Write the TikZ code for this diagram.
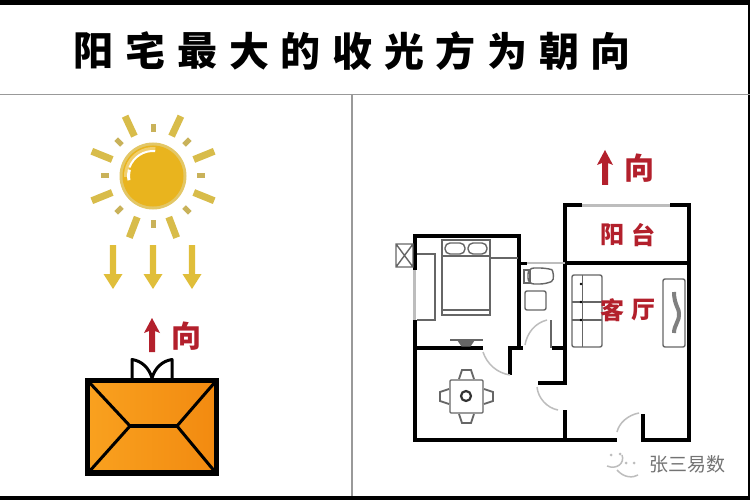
\documentclass[tikz,border=0pt]{standalone}
\usepackage{fontspec}
\newfontfamily\cjk{Noto Sans CJK SC}[BoldFont={Noto Sans CJK SC Black}]
\newfontfamily\cjkb{Noto Sans CJK SC}
\definecolor{sunray}{HTML}{D8BC4A}
\definecolor{suntick}{HTML}{C9B25A}
\definecolor{sunfill}{HTML}{E9B41E}
\definecolor{sunedge}{HTML}{E3C766}
\definecolor{arrowy}{HTML}{E0BE3A}
\definecolor{redtxt}{HTML}{B3202C}
\definecolor{roofa}{HTML}{F9A11F}
\definecolor{roofb}{HTML}{F28A10}
\definecolor{furn}{HTML}{666666}
\definecolor{softg}{HTML}{BDBDBD}
\tikzset{
  wall/.style={line width=3.2pt,black,line cap=butt},
  furniture/.style={line width=1.4pt,furn},
  doorarc/.style={line width=1.5pt,softg},
  window/.style={line width=3pt,softg},
  redlabel/.style={text=redtxt,font=\cjkb\bfseries\fontsize{#1}{#1}\selectfont,inner sep=0pt},
  titlechar/.style={font=\cjk\bfseries\fontsize{40}{40}\selectfont,inner sep=0pt,text=black},
  markg/.style={text=#1,font=\cjkb\fontsize{19}{19}\selectfont,inner sep=0pt},
}
\newcommand{\redarrow}[3]{% x, ytop, ybottom
  \fill[redtxt] (#1,#2) -- (#1+8,#2+15) -- (#1+3,#2+13) -- (#1+3,#3) -- (#1-3,#3) -- (#1-3,#2+13) -- (#1-8,#2+15) -- cycle;}
\newcommand{\downarrowy}[1]{%
  \fill[arrowy] (#1-3.2,245) -- (#1+3.2,245) -- (#1+3.2,274) -- (#1+9.5,274) -- (#1,289) -- (#1-9.5,274) -- (#1-3.2,274) -- cycle;}
\begin{document}
\begin{tikzpicture}[x=1pt,y=-1pt]
\useasboundingbox (0,0) rectangle (750,500);
\fill[white] (0,0) rectangle (750,500);
% frame
\fill[black] (0,0) rectangle (750,5);
\fill[black] (0,495.5) rectangle (750,500);
\fill[black] (747.5,0) rectangle (750,500);
\draw[line width=1.5pt,gray!80] (0,94.5) -- (750,94.5);
\draw[line width=1.5pt,gray!80] (352,94.5) -- (352,496);
% title
\foreach \c/\x/\n in {阳/93/a,宅/145/b,最/197/c,大/249/d,的/300/e,收/352/f,光/404/g,方/455/h,为/507/i,朝/559/j,向/610/k}{
  \node[titlechar] (t\n) at (\x,51) {\c};
}
% sun
\begin{scope}[shift={(153,176)},y=1pt]
\foreach \a in {22,65,115,158,202,249,291,338}
  \draw[sunray,line width=7pt] (\a:44) -- (\a:66);
\foreach \a in {0,45,90,135,180,225,270,315}
  \draw[suntick,line width=5pt] (\a:44) -- (\a:52);
\fill[sunedge] (0,0) circle (33.5);
\fill[sunfill] (0,0) circle (30.5);
\fill[white!35!sunfill] (182:29) arc (182:85:29) -- (85:25) arc (85:182:25) -- cycle;
\fill[white] (190:26) arc (190:165:26) -- (165:23) arc (165:190:23) -- cycle;
\fill[white] (160:26) arc (160:85:26) -- (85:24) arc (85:160:24) -- cycle;
\end{scope}
\downarrowy{113}\downarrowy{153}\downarrowy{192}
% left red direction
\redarrow{152}{318}{352}
\node[redlabel=30] (dirl) at (186,336) {向};
% house
\draw[black,line width=3pt,fill=white,line join=round] (132,378) -- (132,359.5) .. controls (142,361) and (149,368) .. (152,378)
  .. controls (155,368) and (162,361) .. (172,359.5) -- (172,378);
\draw[line width=5.5pt,black,left color=roofa,right color=roofb] (87.5,380.5) rectangle (216.5,473);
\draw[line width=3pt,black] (88,381) -- (130,426) (216,381) -- (177,426) (88,473) -- (130,426) (216,473) -- (177,426);
\draw[line width=4.5pt,black] (130,426) -- (177,426);
% ---- floor plan
\draw[wall] (413.4,236) -- (520.6,236);
\draw[wall] (415,236) -- (415,270);
\draw[window] (414.5,270) -- (414.5,320);
\draw[wall] (415,320) -- (415,440);
\draw[wall] (519,236) -- (519,349.6);
\draw[wall] (415,348) -- (483,348);
\draw[wall] (510,375) -- (510,348) -- (523,348);
\draw[wall] (552,348) -- (566,348);
\draw[wall] (565,205) -- (565,383) -- (538,383);
\draw[wall] (565,410) -- (565,440);
\draw[wall] (413.4,440) -- (617,440);
\draw[wall] (643,414) -- (643,440) -- (689,440);
\draw[wall] (689,205) -- (689,441.6);
\draw[wall] (563.4,205) -- (582,205);
\draw[wall] (670,205) -- (690.6,205);
\draw[window] (582,205) -- (670,205);
\draw[wall] (565,263) -- (689,263);
% bath top partition
\draw[wall] (519,263.3) -- (527,263.3);
\draw[window,line width=2pt] (527,263.3) -- (565,263.3);
% door arcs
\draw[doorarc] (483,352) .. controls (487,364) and (497,373) .. (510,375);
\draw[doorarc] (537,387) .. controls (538,398) and (547,408) .. (558,410);
\draw[doorarc] (617,432) .. controls (619,423) and (628,415) .. (639,413);
\draw[doorarc] (525,345) .. controls (527,333) and (535,323) .. (547,320);
\draw[line width=1.6pt,furn] (551,320) -- (551,348);
% shaft box
\draw[furniture] (396,244) rectangle (413,267) (396,244) -- (413,267) (413,244) -- (396,267);
% wardrobe
\draw[furniture] (417,254) -- (435,254) -- (435,320) -- (417,320);
% bed
\draw[furniture] (442,240) rectangle (490,315);
\draw[furniture] (442,310) -- (490,310) (442,256) -- (490,256);
\draw[furniture,rounded corners=5pt] (445,243) rectangle (465,254);
\draw[furniture,rounded corners=5pt] (468,243) rectangle (487,254);
\draw[furniture] (490,258) -- (518,258);
% desk
\draw[furniture] (450,340) -- (483,340);
\draw[furniture,fill=furn] (458,340) -- (474,340) -- (470,346) -- (462,346) -- cycle;
% toilet & sink
\draw[furniture,rounded corners=6pt] (528,268) -- (546,268) .. controls (553,270) and (555,280) .. (546,284) -- (528,284) -- cycle;
\draw[furniture] (524,270) rectangle (530,283);
\draw[furniture,rounded corners=2pt] (525,291) rectangle (546,310);
% dining table
\draw[furniture,rounded corners=1pt] (450,380) rectangle (483,413);
\draw[line width=2.2pt,black!80] (466,396) circle (5);
\draw[furniture,line width=1.8pt] (459,379) -- (462,370) -- (471,370) -- (474,379);
\draw[furniture,line width=1.8pt] (459,414) -- (462,423) -- (471,423) -- (474,414);
\draw[furniture,line width=1.8pt] (449,389) -- (440,392) -- (440,401) -- (449,404);
\draw[furniture,line width=1.8pt] (484,389) -- (493,392) -- (493,401) -- (484,404);
% sofa
\draw[furniture,rounded corners=2pt] (572,275) rectangle (602,347);
\draw[furniture] (572,302) -- (602,302) (572,320) -- (602,320);
\draw[furniture,line width=1pt] (582,275) -- (582,347);
\fill[black] (581,284) circle (1.4) (581,302) circle (1.4) (581,320) circle (1.4);
% tv
\draw[furniture,rounded corners=2pt] (663,279) rectangle (685,347);
\draw[line width=4pt,gray] (674,292) .. controls (674,305) and (680,310) .. (679,314) .. controls (680,320) and (674,325) .. (674,333);
% red labels
\redarrow{605}{150}{185}
\node[redlabel=30] (dirr) at (639,168) {向};
\node[redlabel=24] (y1) at (612,235) {阳};
\node[redlabel=24] (y2) at (643,235) {台};
\node[redlabel=24] (k1) at (612,310) {客};
\node[redlabel=24] (k2) at (643,310) {厅};
% watermark
\node[markg=gray!110] (wm) at (687,464) {张三易数};
\draw[softg,line width=1.5pt] (607,466) .. controls (617,470) and (625,463) .. (622,455);
\draw[softg,line width=1.5pt] (617,470) .. controls (624,478) and (633,478) .. (638,475);
\fill[softg] (611,455) circle (1.5) (620,454) circle (1.5) (626,463) circle (1.5) (634,463) circle (1.5);
\end{tikzpicture}
\end{document}
